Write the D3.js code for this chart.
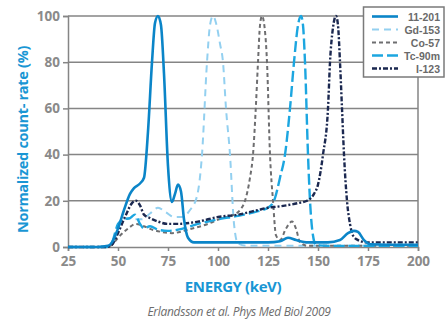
<!DOCTYPE html>
<html>
<head>
<meta charset="utf-8">
<script src="https://cdn.jsdelivr.net/npm/d3@7"></script>
<style>
  body { margin: 0; background: #fff; }
  svg { display: block; font-family: 'Open Sans', sans-serif; }
</style>
</head>
<body>
<svg id="chart"></svg>
<script>
// energy (keV) / normalized count-rate (%)
const tlKev = [25, 40, 45, 47, 50, 53, 56, 58, 61, 63, 65, 67, 68.5, 70, 71.5, 73, 75, 77, 78.5, 80, 81.5, 83, 85, 88, 95, 110, 125, 131, 135, 139, 145, 155, 161, 165, 168, 170, 173, 176, 185, 200]
const tlPct = [0, 0, 0.5, 2, 8, 16, 23, 25.5, 27.5, 30, 50, 80, 97, 100, 96, 75, 35, 19.5, 23, 27, 24, 12, 4, 2, 2, 2, 2, 2.5, 4, 3, 2, 2, 3, 6, 7, 6.5, 3, 1.2, 1, 1]

const gdKev = [25, 44, 47, 50, 55, 58, 62, 66, 70, 74, 78, 82, 86, 89.5, 92, 94.5, 96, 97.5, 99, 101, 102.5, 104, 106, 108, 110, 115, 200]
const gdPct = [0, 0, 2, 9, 12.5, 12, 12, 14.5, 17, 15, 13, 13, 16, 22, 40, 80, 96, 100, 97, 88, 80, 60, 40, 10, 1.5, 0.5, 0.5]

const coKev = [25, 44, 47, 50, 55, 59, 63, 67, 72, 77, 85, 95, 102, 108, 111, 113.5, 116, 117.5, 119, 120, 121, 122, 123, 124.5, 126, 127.5, 129, 131, 134, 137, 139, 141, 145, 200]
const coPct = [0, 0, 1, 4, 8, 10, 9, 7.5, 6.5, 6, 7.5, 10, 12.5, 14, 16, 20, 30, 40, 62, 80, 96, 100, 97, 80, 40, 20, 5, 3, 8, 11, 8, 2, 0.5, 0.5]

const tcKev = [25, 44, 47, 50, 53, 56, 58.5, 61, 63, 66, 70, 75, 80, 90, 100, 110, 120, 125, 128, 131, 133.5, 136, 138, 140, 141.5, 142.5, 143.5, 145, 146, 147.5, 149, 155, 200]
const tcPct = [0, 0, 2, 10, 12, 12.5, 14, 10, 8, 9, 7.5, 7, 7.5, 10, 12, 13.5, 15.5, 17, 20, 30, 40, 60, 80, 96, 100, 96, 80, 40, 20, 5, 0.8, 0.5, 0.5]

const iKev = [25, 44, 47, 50, 54, 57, 59, 61, 63, 66, 70, 75, 80, 90, 100, 110, 120, 125, 130, 140, 144.5, 148, 150, 152.5, 155, 156, 157.5, 159, 160, 161, 162, 163, 164.5, 166, 167.5, 170, 174.5, 185, 200]
const iPct = [0, 0, 1, 6, 14, 19, 20, 18, 14, 12.5, 11, 10, 10, 11, 13, 14, 16, 17, 17.5, 19, 20, 23, 27, 40, 60, 80, 95, 100, 96, 80, 60, 40, 20, 10, 5, 3, 2, 2, 2]

const series = [
  { name: '11-201', kev: tlKev, pct: tlPct, color: '#0b85c8', width: 2.6, dash: null },
  { name: 'Gd-153', kev: gdKev, pct: gdPct, color: '#93d0f0', width: 2, dash: '7,5' },
  { name: 'Co-57', kev: coKev, pct: coPct, color: '#6e6e70', width: 2, dash: '4,3' },
  { name: 'Tc-90m', kev: tcKev, pct: tcPct, color: '#1ca6e0', width: 2.4, dash: '11,4' },
  { name: 'I-123', kev: iKev, pct: iPct, color: '#1b2850', width: 2.4, dash: '5,2,2,2' }
]
// draw order: back to front
const drawOrder = ['Gd-153', 'Co-57', 'Tc-90m', 'I-123', '11-201']

const xTicks = [25, 50, 75, 100, 125, 150, 175, 200]
const yTicks = [0, 20, 40, 60, 80, 100]

const width = 445
const height = 322
const margin = { top: 16, right: 27, bottom: 75, left: 68 }
const grey = '#858585'
const labelGrey = '#8a8a8a'
const blue = '#1996d4'

const svg = d3.select('#chart')
  .attr('width', width)
  .attr('height', height)

const x = d3.scaleLinear()
  .domain([25, 200])
  .range([margin.left, width - margin.right])

const y = d3.scaleLinear()
  .domain([0, 100])
  .range([height - margin.bottom, margin.top])

// horizontal gridlines
svg.append('g')
  .selectAll('line')
  .data(yTicks.filter(d => d > 0))
  .join('line')
  .attr('x1', x(25))
  .attr('x2', x(200))
  .attr('y1', d => y(d))
  .attr('y2', d => y(d))
  .attr('stroke', grey)
  .attr('stroke-width', 1.5)

// right frame
svg.append('line')
  .attr('x1', x(200)).attr('x2', x(200))
  .attr('y1', y(100)).attr('y2', y(0))
  .attr('stroke', grey)
  .attr('stroke-width', 1.5)

const xAxis = g => g
  .attr('transform', `translate(0,${y(0)})`)
  .call(d3.axisBottom(x).tickValues(xTicks).tickSize(4).tickPadding(5))

const yAxis = g => g
  .attr('transform', `translate(${x(25)},0)`)
  .call(d3.axisLeft(y).tickValues(yTicks).tickSize(5).tickPadding(3))

const styleAxis = g => {
  g.select('.domain').attr('stroke', grey).attr('stroke-width', 1.5)
  g.selectAll('.tick line').attr('stroke', grey).attr('stroke-width', 1.5)
  g.selectAll('.tick text')
    .attr('fill', labelGrey)
    .attr('font-size', 13.5)
    .attr('font-weight', 700)
    .attr('font-family', "'Open Sans', sans-serif")
}

svg.append('g').call(xAxis).call(styleAxis)
svg.append('g').call(yAxis).call(styleAxis)

// curves
const line = d3.line()
  .x(d => x(d[0]))
  .y(d => y(d[1]))
  .curve(d3.curveMonotoneX)

drawOrder.forEach(name => {
  const s = series.find(d => d.name === name)
  svg.append('path')
    .datum(s.kev.map((k, i) => [k, s.pct[i]]))
    .attr('fill', 'none')
    .attr('stroke', s.color)
    .attr('stroke-width', s.width)
    .attr('stroke-dasharray', s.dash)
    .attr('stroke-linejoin', 'round')
    .attr('d', line)
})

// legend
const legend = svg.append('g')
legend.append('rect')
  .attr('x', 363.5).attr('y', 7)
  .attr('width', 80.5).attr('height', 70)
  .attr('fill', '#fff')
  .attr('stroke', '#7a7a7a')
  .attr('stroke-width', 1.5)

series.forEach((s, i) => {
  const ly = 16.5 + i * 13
  legend.append('line')
    .attr('x1', 372).attr('x2', 398)
    .attr('y1', ly).attr('y2', ly)
    .attr('stroke', s.color)
    .attr('stroke-width', s.width)
    .attr('stroke-dasharray', s.dash)
  legend.append('text')
    .attr('x', 440).attr('y', ly + 4)
    .attr('text-anchor', 'end')
    .attr('fill', '#6a6a6a')
    .attr('font-family', "'Liberation Sans', Arial, sans-serif")
    .attr('font-size', 10.5)
    .attr('font-weight', 700)
    .text(s.name)
})

// titles
svg.append('text')
  .attr('transform', `translate(28,${(y(0) + y(100)) / 2 + 8}) rotate(-90)`)
  .attr('text-anchor', 'middle')
  .attr('fill', blue)
  .attr('font-size', 14.5)
  .attr('font-weight', 700)
  .attr('letter-spacing', -0.3)
  .text('Normalized count- rate (%)')

svg.append('text')
  .attr('x', 233).attr('y', 292)
  .attr('text-anchor', 'middle')
  .attr('fill', blue)
  .attr('font-size', 15)
  .attr('font-weight', 700)
  .attr('letter-spacing', -0.4)
  .text('ENERGY (keV)')

svg.append('text')
  .attr('x', 239).attr('y', 316)
  .attr('text-anchor', 'middle')
  .attr('fill', '#6d6d6d')
  .attr('font-size', 12)
  .attr('font-style', 'italic')
  .attr('letter-spacing', -0.3)
  .text('Erlandsson et al. Phys Med Biol 2009')
</script>
</body>
</html>
